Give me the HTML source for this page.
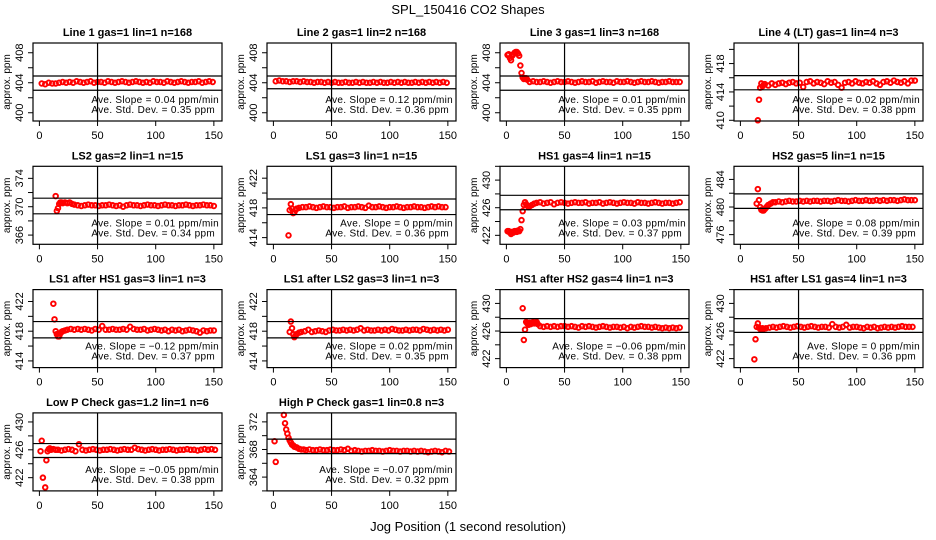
<!DOCTYPE html>
<html><head><meta charset="utf-8">
<style>
html,body{margin:0;padding:0;background:#fff;}
svg{display:block;font-family:"Liberation Sans",sans-serif;}
</style></head>
<body>
<svg id="chart" width="936" height="540" viewBox="0 0 936 540" xmlns="http://www.w3.org/2000/svg">
<rect x="0" y="0" width="936" height="540" fill="#fff"/>
<text x="468" y="14" text-anchor="middle" font-size="13">SPL_150416  CO2 Shapes</text>
<text x="468" y="531" text-anchor="middle" font-size="13">Jog Position (1 second resolution)</text>
<g id="panels"></g>
</svg>
<script>
const titles = ["Line 1 gas=1 lin=1 n=168","Line 2 gas=1 lin=2 n=168","Line 3 gas=1 lin=3 n=168","Line 4 (LT) gas=1 lin=4 n=3",
"LS2 gas=2 lin=1 n=15","LS1 gas=3 lin=1 n=15","HS1 gas=4 lin=1 n=15","HS2 gas=5 lin=1 n=15",
"LS1 after HS1 gas=3 lin=1 n=3","LS1 after LS2 gas=3 lin=1 n=3","HS1 after HS2 gas=4 lin=1 n=3","HS1 after LS1 gas=4 lin=1 n=3",
"Low P Check gas=1.2 lin=1 n=6","High P Check gas=1 lin=0.8 n=3"];
const slopes = ["0.04","0.12","0.01","0.02","0.01","0","0.03","0.08","\u22120.12","0.02","\u22120.06","0","\u22120.05","\u22120.07"];
const stdDevs = ["0.35","0.36","0.35","0.38","0.34","0.36","0.37","0.39","0.37","0.35","0.38","0.36","0.38","0.32"];
const yLo = [398.9,398.9,398.9,409.9,364.7,413.1,420.7,474.6,413.1,413.1,420.7,420.7,420.1,362.0];
const yHi = [409.3,409.3,409.3,420.9,375.7,423.6,432.0,485.9,423.6,423.6,432.0,432.0,431.3,373.3];
const yLabels = [[400,404,408],[400,404,408],[400,404,408],[410,414,418],[366,370,374],[414,418,422],[422,426,430],[476,480,484],[414,418,422],[414,418,422],[422,426,430],[422,426,430],[422,426,430],[364,368,372]];
const hUpper = [404.9,404.9,404.9,416.3,371.2,419.2,427.8,481.9,419.3,419.3,427.8,427.8,426.9,369.5];
const hLower = [403.0,403.2,403.0,414.3,369.0,417.1,425.7,479.8,417.1,417.1,425.8,425.8,424.9,367.4];
const xTicks = [0,50,100,150];
const vLineX = 50;
// transient points (jog position, ppm)
const trX = [[],[],[1,2,3,4,5,6,7,8,9,10,11,12,13,14,15,16,17,18],[15,16,17,18,19,20],
[14,15,16,17,18,19,20,22,24,26,28],[13,14,15,16,17,18,19,20],
[1,2,3,4,5,6,7,8,9,10,11,12,13,14,15,16,17,18,19,20,22,24],[14,15,16,17,18,19,20,21,22,23,24,26,28],
[12,13,14,15,16,17,18,19,20,22],[14,15,16,17,18,19,20,22],
[14,15,16,17,18,19,20,21,22,23,24,25,26,27],[12,13,14,15,16,17,18,19,20],
[1,2,3,5,6,7,8,9,10,12,14],[1,2,9,10,11,12,13,14,15,16,17,18,20,22,24,26]];
const trY = [[],[],[407.7,407.8,407.3,407.0,407.6,407.8,408.0,408.1,408.1,407.9,407.6,406.3,405.3,404.7,404.5,404.6,404.6,404.4],[410.0,412.9,414.6,415.2,414.8,415.0],
[371.5,369.4,369.8,370.4,370.6,370.6,370.5,370.6,370.5,370.6,370.4],[414.3,417.7,418.5,417.9,417.3,417.4,417.7,417.9],
[422.6,422.6,422.4,422.2,422.5,422.4,422.6,422.6,422.5,422.7,422.6,422.9,424.2,425.5,426.4,426.8,426.5,426.3,426.1,426.2,426.4,426.6],[480.5,482.6,481.0,480.0,479.6,479.5,479.5,479.7,479.9,480.1,480.3,480.5,480.7],
[421.7,419.6,418.0,417.6,417.3,417.3,417.7,417.9,418.0,418.1],[417.9,419.3,418.4,417.6,417.2,417.4,417.6,417.8],
[429.3,424.7,426.2,427.3,427.1,426.9,427.2,427.0,427.2,427.3,427.1,427.2,427.3,427.0],[421.9,424.8,426.6,427.1,426.5,426.3,426.2,426.4,426.3],
[425.8,427.3,422.0,420.6,424.5,425.8,426.1,426.2,426.0,426.1,426.0],[369.2,366.2,373.0,371.8,370.9,370.3,369.7,369.3,369.0,368.7,368.6,368.4,368.3,368.1,368.0,368.0]];
// steady part: first jog position, sampled every 3 s
const stStart = [2,2,20,21,30,22,26,30,24,24,29,22,16,28];
const stStep = 3;
const st1 = [403.9,403.8,404.0,403.9,403.9,404.0,404.1,404.0,404.1,404.0,404.2,404.1,404.0,404.1,404.2,404.0,404.1,404.1,404.0,404.2,404.1,404.0,404.1,404.2,404.1,404.0,404.1,404.2,404.1,404.0,404.1,404.0,404.2,404.1,404.1,404.0,404.2,404.1,404.0,404.1,404.2,404.1,404.0,404.1,404.1,404.2,404.0,404.1,404.2,404.1];
const st2 = [404.2,404.3,404.2,404.2,404.1,404.2,404.2,404.1,404.2,404.1,404.1,404.0,404.1,404.1,404.0,404.1,404.0,404.1,404.0,404.0,404.1,404.0,404.0,404.1,404.0,404.1,404.0,404.0,404.1,404.0,404.1,404.0,404.0,404.1,404.0,404.1,404.0,404.1,404.0,404.0,404.1,404.0,404.1,404.0,404.1,404.0,404.1,404.0,404.1,404.0];
const st3 = [404.1,404.2,404.1,404.1,404.2,404.1,404.0,404.1,404.2,404.1,404.1,404.2,404.1,404.0,404.1,404.2,404.1,404.1,404.2,404.0,404.1,404.2,404.1,404.1,404.0,404.2,404.1,404.1,404.2,404.1,404.0,404.1,404.2,404.1,404.1,404.2,404.1,404.0,404.1,404.1,404.2,404.1,404.1,404.1];
const st4 = [415.1,414.9,415.2,415.0,415.2,415.3,415.1,415.3,415.4,415.2,415.3,414.7,415.4,415.5,415.2,415.4,415.3,415.1,415.5,415.3,415.4,415.0,414.6,415.3,415.4,415.2,415.5,415.3,415.2,415.4,415.3,415.5,415.2,415.0,415.4,415.5,415.3,415.6,415.4,415.3,415.5,415.2,415.6,415.6];
const st5 = [370.3,370.2,370.1,370.2,370.3,370.2,370.2,370.1,370.2,370.2,370.3,370.2,370.1,370.2,370.0,370.2,370.3,370.2,370.2,370.1,370.2,370.3,370.2,370.2,370.1,370.2,370.3,370.2,370.2,370.1,370.2,370.2,370.3,370.2,370.1,370.2,370.2,370.3,370.2,370.2,370.1];
const st6 = [418.0,418.1,418.1,418.2,418.1,418.0,418.1,418.2,418.1,418.1,418.0,418.1,418.1,418.2,418.0,418.1,418.1,418.2,418.1,418.0,418.3,418.1,418.1,418.2,418.1,418.0,418.1,418.1,418.2,418.1,418.0,418.1,418.1,418.2,418.1,418.1,418.0,418.1,418.2,418.1,418.2,418.1,418.1];
const st7 = [426.7,426.8,426.6,426.7,426.8,426.5,426.7,426.8,426.7,426.6,426.7,426.8,426.7,426.7,426.8,426.6,426.7,426.7,426.8,426.6,426.7,426.8,426.7,426.6,426.7,426.8,426.7,426.7,426.6,426.8,426.7,426.7,426.6,426.7,426.8,426.7,426.6,426.7,426.7,426.6,426.7,426.8];
const st8 = [480.7,480.8,480.7,480.8,480.9,480.8,480.8,480.9,480.8,480.9,480.8,480.9,480.9,480.8,480.9,480.9,480.8,480.9,481.0,480.9,480.9,480.8,480.9,481.0,480.9,480.9,481.0,480.9,480.9,481.0,480.9,481.0,480.9,481.0,481.0,480.9,481.0,481.1,481.0,481.0,481.0];
const st9 = [418.2,418.3,418.2,418.3,418.2,418.3,418.2,418.1,418.3,418.2,418.7,418.2,418.2,418.3,418.2,418.2,418.3,418.2,418.6,418.3,418.2,418.2,418.3,418.1,418.2,418.3,418.2,418.1,418.2,418.0,418.2,418.1,418.2,418.0,418.1,418.2,418.1,418.0,417.8,418.1,418.0,418.1,418.1];
const st10 = [417.9,418.0,418.2,417.9,418.0,418.1,418.0,417.9,418.1,418.2,418.1,418.1,418.2,418.1,418.2,418.1,418.2,418.4,418.1,418.2,418.1,418.1,418.2,418.1,418.2,418.1,418.3,418.2,418.1,418.1,418.2,418.1,418.2,418.2,418.1,418.3,418.2,418.1,418.2,418.1,418.2,418.1,418.2];
const st11 = [426.7,426.6,426.7,426.6,426.7,426.6,426.7,426.7,426.6,426.7,426.6,426.5,426.7,426.6,426.7,426.6,426.5,426.6,426.7,426.6,426.5,426.6,426.6,426.5,426.6,426.4,426.6,426.5,426.6,426.7,426.6,426.6,426.5,426.6,426.5,426.4,426.5,426.4,426.5,426.4,426.5];
const st12 = [426.4,426.5,426.6,426.5,426.6,426.7,426.6,426.5,426.6,426.7,426.6,426.5,426.6,426.7,426.6,426.5,426.6,426.6,426.5,427.0,426.6,426.5,426.6,426.9,426.5,426.6,426.6,426.5,426.4,426.6,426.5,426.6,426.4,426.5,426.6,426.5,426.6,426.5,426.6,426.7,426.6,426.6,426.6];
const st13 = [426.0,425.9,426.0,426.1,426.0,425.8,426.8,426.0,425.9,426.0,426.1,426.0,425.9,426.0,426.0,426.1,426.0,425.9,426.0,426.1,426.0,426.0,426.3,426.1,426.0,425.9,426.0,426.1,426.0,425.9,426.0,426.0,426.1,426.0,425.9,426.0,426.0,426.1,426.0,426.0,425.9,426.0,426.1,426.0,426.1,426.0];
const st14 = [367.9,368.0,367.9,367.9,368.0,367.9,367.9,368.0,367.9,367.9,368.0,367.9,368.1,367.8,367.9,367.8,367.7,367.8,367.8,367.9,367.8,367.8,367.7,367.8,367.9,367.8,367.8,367.7,367.8,367.8,367.7,367.8,367.7,367.8,367.7,367.6,367.7,367.8,367.7,367.6,367.8,367.7];
const steady = [st1,st2,st3,st4,st5,st6,st7,st8,st9,st10,st11,st12,st13,st14];

const NS = "http://www.w3.org/2000/svg";
const root = document.getElementById("panels");
const colLeft = [33,267,500,734];
const boxW = 189, boxH = 78;
const xMin = -5.5, xMax = 157;
function mk(tag, attrs, parent){
  const e = document.createElementNS(NS, tag);
  for (const k in attrs) e.setAttribute(k, attrs[k]);
  parent.appendChild(e);
  return e;
}
for (let p = 0; p < titles.length; p++) {
  const col = p % 4, row = Math.floor(p / 4);
  const L = colLeft[col], T = 43 + row * 123.3;
  const sx = v => L + (v - xMin) / (xMax - xMin) * boxW;
  const sy = v => T + boxH - (v - yLo[p]) / (yHi[p] - yLo[p]) * boxH;
  const g = mk("g", {}, root);
  
  
  const t = mk("text", {x: L + boxW/2, y: T - 7, "text-anchor": "middle", "font-size": "11", "font-weight": "bold"}, g);
  t.textContent = titles[p];
  
  
  xTicks.forEach(v => {
    mk("line", {x1: sx(v), x2: sx(v), y1: T + boxH, y2: T + boxH + 5, stroke: "#000", "stroke-width": 1}, g);
    const tl = mk("text", {x: sx(v), y: T + boxH + 18, "text-anchor": "middle", "font-size": "11"}, g);
    tl.textContent = v;
    
    
  });
  for (let v = Math.ceil(yLo[p] / 2) * 2; v <= yHi[p]; v += 2) {
    mk("line", {x1: L - 5, x2: L, y1: sy(v), y2: sy(v), stroke: "#000", "stroke-width": 1}, g);
  }
  yLabels[p].forEach(v => {
    const yl = mk("text", {x: 0, y: 0, "text-anchor": "middle", "font-size": "11", transform: "translate(" + (L - 10) + "," + sy(v) + ") rotate(-90)"}, g);
    yl.textContent = v;
    
    
  });
  const ya = mk("text", {x: 0, y: 0, "text-anchor": "middle", "font-size": "10", transform: "translate(" + (L - 23) + "," + (T + boxH/2) + ") rotate(-90)"}, g);
  ya.textContent = "approx. ppm";
  
  
  const pts = mk("g", {fill: "none", stroke: "#ff0000", "stroke-width": 1.9}, g);
  
  
  const draw = (x, y) => {
    if (y < yLo[p] - 0.3 || y > yHi[p] + 0.3) return;
    const c = mk("circle", {cx: sx(x), cy: sy(y), r: 2.3}, pts);
    
    
  };
  trX[p].forEach((x, i) => draw(x, trY[p][i]));
  steady[p].forEach((y, i) => draw(stStart[p] + i * stStep, y));
  [hUpper[p], hLower[p]].forEach(v => {
    const hl = mk("line", {x1: L, x2: L + boxW, y1: sy(v), y2: sy(v), stroke: "#000", "stroke-width": 1.2}, g);
    
    
  });
  const vl = mk("line", {x1: sx(vLineX), x2: sx(vLineX), y1: T, y2: T + boxH, stroke: "#000", "stroke-width": 1.2}, g);
  
  
  mk("rect", {x: L, y: T, width: boxW, height: boxH, fill: "none", stroke: "#000", "stroke-width": 1.2}, g);
  const a1 = mk("text", {x: L + boxW - 3, y: T + 60, "text-anchor": "end", "font-size": "10", "letter-spacing": "0.3"}, g);
  a1.textContent = "Ave. Slope =  " + slopes[p] + "  ppm/min";
  
  
  const a2 = mk("text", {x: L + boxW - 7, y: T + 70, "text-anchor": "end", "font-size": "10", "letter-spacing": "0.3"}, g);
  a2.textContent = "Ave. Std. Dev. =  " + stdDevs[p] + "  ppm";
  
  
}
</script>
</body></html>
